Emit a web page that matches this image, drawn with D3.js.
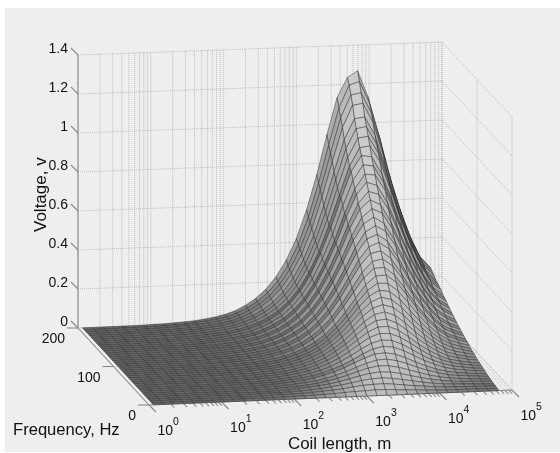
<!DOCTYPE html>
<html>
<head>
<meta charset="utf-8">
<script src="https://cdn.jsdelivr.net/npm/d3@7"></script>
<style>
  html, body { margin: 0; padding: 0; background: #fff; }
  svg { display: block; filter: blur(0.55px); }
  text { font-family: "Liberation Sans", Arial, sans-serif; fill: #111; }
</style>
</head>
<body>
<div class="main"></div>
<script>
const width = 560;
const height = 453;

const voltageTicks = [0, 0.2, 0.4, 0.6, 0.8, 1, 1.2, 1.4];
const freqTicks = [0, 100, 200];
const coilTicks = [1, 10, 100, 1000, 10000, 100000];

// mesh columns, metres
const coilLength = [1.15, 1.58, 2.19, 3.02, 4.17, 5.75, 7.94, 11, 15.1, 20.9, 28.8, 39.8, 55, 75.9, 105, 145, 200, 275, 380, 525, 724, 1000, 1380, 1905, 2630, 3631, 5012, 6918, 9550, 13183, 18197, 25119, 34674, 47863, 66069];
// mesh rows, Hz
const frequency = [0, 5, 10, 15, 20, 25, 30, 35, 40, 45, 50, 55, 60, 65, 70, 75, 80, 85, 90, 95, 100, 105, 110, 115, 120, 125, 130, 135, 140, 145, 150, 155, 160, 165, 170, 175, 180, 185, 190, 195, 200];
// volts, one row per frequency
const voltage = [
[0,0,0,0,0,0,0,0,0,0,0,0,0,0,0,0,0,0,0,0,0,0,0,0,0,0,0,0,0,0,0,0,0,0,0],
[0,0,0,0,0,0,0,0,0,.001,.001,.001,.001,.002,.003,.004,.005,.007,.009,.012,.015,.017,.019,.019,.016,.013,.011,.008,.006,.004,.004,.003,.003,.002,.002],
[0,0,0,0,0,0,0,.001,.001,.001,.001,.002,.003,.004,.005,.007,.009,.013,.017,.022,.029,.035,.038,.039,.035,.029,.023,.018,.013,.010,.008,.007,.006,.005,.004],
[0,0,0,0,0,0,.001,.001,.001,.001,.002,.003,.004,.005,.007,.009,.013,.017,.024,.031,.040,.050,.057,.059,.055,.047,.038,.029,.022,.016,.013,.011,.009,.007,.006],
[0,0,0,0,0,.001,.001,.001,.001,.002,.002,.003,.004,.006,.008,.012,.016,.022,.029,.039,.051,.064,.075,.080,.077,.068,.055,.043,.032,.024,.018,.015,.013,.011,.009],
[0,0,0,0,0,.001,.001,.001,.001,.002,.003,.004,.005,.007,.010,.013,.018,.025,.034,.046,.060,.077,.092,.101,.100,.090,.075,.059,.044,.033,.025,.020,.017,.014,.012],
[0,0,0,0,.001,.001,.001,.001,.002,.002,.003,.004,.006,.008,.011,.015,.021,.028,.038,.052,.069,.088,.107,.121,.124,.114,.097,.076,.059,.044,.032,.026,.022,.018,.015],
[0,0,0,0,.001,.001,.001,.001,.002,.002,.003,.005,.006,.009,.012,.017,.023,.032,.044,.059,.078,.101,.124,.142,.147,.138,.118,.094,.072,.054,.040,.032,.026,.022,.019],
[0,0,0,0,.001,.001,.001,.001,.002,.003,.004,.005,.007,.009,.013,.018,.025,.034,.046,.063,.083,.108,.136,.159,.170,.164,.144,.117,.090,.068,.050,.039,.032,.027,.023],
[0,0,0,0,.001,.001,.001,.001,.002,.003,.004,.005,.007,.010,.014,.019,.027,.037,.050,.068,.092,.119,.151,.178,.193,.189,.168,.138,.107,.081,.060,.046,.038,.031,.027],
[0,0,0,.001,.001,.001,.001,.002,.002,.003,.004,.006,.008,.011,.015,.021,.029,.040,.054,.074,.099,.130,.166,.198,.217,.215,.194,.161,.126,.095,.071,.053,.044,.036,.031],
[0,0,0,.001,.001,.001,.001,.002,.002,.003,.004,.006,.008,.012,.016,.022,.031,.042,.058,.079,.106,.140,.179,.216,.240,.242,.220,.184,.144,.111,.082,.061,.050,.041,.035],
[0,0,0,.001,.001,.001,.001,.002,.002,.003,.005,.006,.009,.012,.017,.023,.032,.045,.061,.083,.113,.149,.191,.234,.263,.269,.248,.210,.166,.128,.095,.070,.057,.047,.040],
[0,0,0,.001,.001,.001,.001,.002,.003,.004,.005,.007,.009,.013,.018,.025,.034,.047,.064,.088,.118,.157,.203,.250,.285,.296,.277,.237,.189,.145,.109,.080,.064,.053,.044],
[0,0,0,.001,.001,.001,.001,.002,.003,.004,.005,.007,.010,.014,.019,.026,.036,.049,.067,.092,.124,.166,.214,.267,.308,.324,.308,.267,.214,.166,.124,.092,.072,.060,.050],
[0,0,0,.001,.001,.001,.002,.002,.003,.004,.005,.007,.010,.014,.019,.027,.037,.051,.070,.095,.130,.173,.225,.282,.329,.352,.339,.297,.241,.187,.141,.104,.081,.067,.055],
[0,0,0,.001,.001,.001,.002,.002,.003,.004,.005,.007,.010,.014,.020,.028,.038,.052,.072,.098,.134,.180,.234,.296,.350,.378,.370,.329,.269,.210,.158,.117,.090,.074,.061],
[0,0,0,.001,.001,.001,.002,.002,.003,.004,.005,.008,.011,.015,.020,.028,.039,.054,.074,.101,.138,.186,.242,.309,.369,.405,.402,.362,.300,.235,.178,.132,.099,.082,.067],
[0,0,0,.001,.001,.001,.002,.002,.003,.004,.006,.008,.011,.015,.021,.029,.040,.055,.076,.104,.142,.191,.252,.322,.389,.432,.435,.396,.332,.260,.199,.148,.110,.090,.075],
[0,0,0,.001,.001,.001,.002,.002,.003,.005,.006,.009,.012,.016,.022,.031,.043,.059,.081,.111,.151,.204,.270,.344,.415,.461,.465,.424,.355,.278,.213,.159,.117,.096,.080],
[0,0,0,.001,.001,.001,.002,.002,.003,.005,.006,.009,.012,.017,.023,.032,.044,.060,.083,.114,.155,.209,.277,.355,.433,.487,.498,.460,.390,.308,.237,.177,.130,.105,.088],
[0,0,0,.001,.001,.001,.002,.003,.003,.005,.007,.009,.013,.017,.024,.033,.046,.064,.088,.121,.164,.222,.294,.377,.461,.518,.530,.489,.414,.327,.252,.188,.138,.112,.093],
[0,0,0,.001,.001,.001,.002,.003,.004,.005,.007,.009,.013,.018,.025,.034,.047,.065,.090,.122,.167,.226,.300,.387,.477,.543,.563,.528,.452,.360,.277,.208,.153,.121,.102],
[0,0,0,.001,.001,.001,.002,.003,.004,.005,.007,.010,.014,.019,.026,.036,.050,.069,.095,.129,.176,.238,.317,.409,.504,.574,.595,.558,.478,.380,.293,.219,.162,.128,.107],
[0,0,0,.001,.001,.001,.002,.003,.004,.005,.007,.010,.014,.019,.026,.036,.050,.069,.096,.130,.178,.242,.322,.417,.519,.599,.630,.599,.519,.417,.322,.242,.178,.140,.117],
[0,0,0,.001,.001,.001,.002,.003,.004,.005,.008,.010,.015,.020,.028,.038,.053,.073,.101,.137,.188,.255,.339,.440,.547,.631,.664,.631,.547,.440,.339,.255,.188,.147,.123],
[0,0,.001,.001,.001,.002,.002,.003,.004,.006,.008,.011,.015,.020,.028,.038,.053,.073,.101,.138,.189,.257,.343,.446,.561,.654,.698,.673,.591,.480,.372,.280,.207,.161,.133],
[0,0,.001,.001,.001,.002,.002,.003,.004,.006,.008,.011,.015,.021,.029,.040,.056,.077,.106,.145,.199,.270,.360,.468,.589,.687,.733,.707,.620,.504,.390,.294,.217,.169,.139],
[0,0,.001,.001,.001,.002,.002,.003,.004,.006,.008,.011,.015,.021,.029,.040,.056,.077,.106,.146,.199,.272,.364,.474,.600,.708,.767,.750,.667,.546,.426,.321,.238,.182,.150],
[0,0,.001,.001,.001,.002,.002,.003,.004,.006,.008,.012,.016,.022,.031,.042,.059,.081,.111,.153,.209,.285,.382,.496,.629,.742,.804,.786,.699,.572,.446,.337,.249,.190,.157],
[0,0,.001,.001,.001,.002,.002,.003,.004,.006,.008,.012,.016,.022,.031,.042,.059,.081,.111,.153,.209,.285,.383,.500,.638,.762,.836,.830,.747,.619,.485,.367,.273,.205,.169],
[0,0,.001,.001,.001,.002,.002,.003,.005,.006,.009,.012,.017,.023,.032,.044,.062,.085,.116,.160,.219,.298,.400,.522,.667,.796,.874,.867,.781,.646,.507,.384,.285,.214,.176],
[0,0,.001,.001,.001,.002,.002,.003,.005,.007,.009,.013,.017,.024,.033,.046,.064,.088,.121,.167,.228,.311,.418,.545,.696,.831,.912,.904,.814,.674,.529,.400,.297,.224,.184],
[0,0,.001,.001,.001,.002,.002,.003,.005,.007,.009,.013,.017,.024,.033,.046,.064,.088,.121,.166,.227,.310,.417,.551,.703,.849,.943,.950,.866,.725,.568,.435,.324,.240,.197],
[0,0,.001,.001,.001,.002,.003,.004,.005,.007,.010,.013,.018,.025,.035,.048,.067,.092,.126,.173,.237,.323,.435,.574,.732,.884,.982,.990,.902,.755,.591,.454,.338,.250,.205],
[0,0,.001,.001,.001,.002,.003,.004,.005,.007,.010,.014,.019,.026,.036,.050,.070,.096,.131,.180,.246,.336,.452,.597,.762,.920,1.021,1.030,.938,.785,.615,.472,.351,.260,.213],
[0,0,.001,.001,.002,.002,.003,.004,.005,.008,.010,.014,.020,.027,.038,.052,.072,.099,.136,.187,.256,.349,.470,.621,.792,.956,1.062,1.070,.975,.816,.639,.490,.365,.270,.221],
[0,0,.001,.001,.001,.002,.003,.004,.005,.008,.010,.014,.020,.028,.038,.053,.076,.105,.144,.197,.270,.368,.496,.656,.836,1.009,1.121,1.130,1.029,.862,.675,.518,.385,.285,.234],
[0,0,.001,.001,.002,.002,.003,.004,.006,.008,.011,.015,.021,.029,.040,.055,.079,.109,.149,.205,.281,.383,.515,.681,.869,1.049,1.165,1.174,1.070,.896,.702,.538,.401,.296,.243],
[0,0,.001,.001,.002,.002,.003,.004,.006,.008,.011,.016,.022,.030,.041,.057,.082,.113,.155,.213,.292,.397,.535,.707,.902,1.089,1.205,1.222,1.111,.930,.728,.558,.416,.308,.252],
[0,0,.001,.001,.002,.002,.003,.005,.006,.009,.012,.016,.023,.031,.043,.060,.086,.119,.164,.226,.309,.419,.565,.742,.946,1.135,1.235,1.268,1.135,.946,.742,.565,.420,.311,.254]
];

const xScale = d3.scaleLog().domain([1, 100000]).range([0, 1]);
const fScale = d3.scaleLinear().domain([0, 200]).range([0, 1]);
const zScale = d3.scaleLinear().domain([0, 1.4]).range([0, 273]);

// floor corners of the box in the picture: front/back, left/right
const floorX = [[149, 512], [78, 442]];
const floorY = [[405, 390], [328, 315]];

function project(coil, freq, volt) {
  const u = xScale(coil);
  const v = fScale(freq);
  const px = (1 - v) * ((1 - u) * floorX[0][0] + u * floorX[0][1]) + v * ((1 - u) * floorX[1][0] + u * floorX[1][1]);
  const py = (1 - v) * ((1 - u) * floorY[0][0] + u * floorY[0][1]) + v * ((1 - u) * floorY[1][0] + u * floorY[1][1]);
  return [px, py - zScale(volt)];
}

const svg = d3.select(".main").append("svg")
  .attr("width", width)
  .attr("height", height)
  .attr("viewBox", [0, 0, width, height]);

// grey figure panel
svg.append("rect")
  .attr("x", 5).attr("y", 8)
  .attr("width", width - 5).attr("height", height - 9)
  .attr("fill", "#eeeeee");

const line = (a, b) => ({ a, b });
const xMin = 1, xMax = 100000, fMin = 0, fMax = 200, zMax = 1.4;

// dotted grid on the back wall, right wall and floor
const gridLines = [];
xScale.ticks().forEach((c) => {
  gridLines.push(line(project(c, fMax, 0), project(c, fMax, zMax)));
  gridLines.push(line(project(c, fMin, 0), project(c, fMax, 0)));
});
voltageTicks.forEach((z) => {
  gridLines.push(line(project(xMin, fMax, z), project(xMax, fMax, z)));
  gridLines.push(line(project(xMax, fMax, z), project(xMax, fMin, z)));
});
freqTicks.forEach((f) => {
  gridLines.push(line(project(xMax, f, 0), project(xMax, f, zMax)));
  gridLines.push(line(project(xMin, f, 0), project(xMax, f, 0)));
});

svg.append("g").selectAll("line")
  .data(gridLines)
  .join("line")
    .attr("x1", (d) => d.a[0]).attr("y1", (d) => d.a[1])
    .attr("x2", (d) => d.b[0]).attr("y2", (d) => d.b[1])
    .attr("stroke", "#a8a8a8")
    .attr("stroke-width", 0.7)
    .attr("stroke-dasharray", "1,1");

// solid axes
const axisLines = [
  line(project(xMin, fMax, 0), project(xMin, fMax, zMax)),
  line(project(xMin, fMax, 0), project(xMin, fMin, 0)),
  line(project(xMin, fMin, 0), project(xMax, fMin, 0))
];
voltageTicks.forEach((z) => {
  const p = project(xMin, fMax, z);
  axisLines.push(line(p, [p[0] - 7, p[1] - 7]));
});
freqTicks.forEach((f) => {
  const p = project(xMin, f, 0);
  axisLines.push(line(p, [p[0] - 11, p[1]]));
});
xScale.ticks().forEach((c) => {
  const p = project(c, fMin, 0);
  const len = coilTicks.includes(c) ? 7 : 3.5;
  axisLines.push(line(p, [p[0] + len, p[1] + len]));
});

// surface faces, far corner first so nearer ones paint over
const shade = d3.scaleLinear().domain([0, 1]).range([0.4, 0.98]);
const faces = [];
for (let i = frequency.length - 2; i >= 0; i--) {
  for (let j = coilLength.length - 2; j >= 0; j--) {
    const dV = (voltage[i][j + 1] + voltage[i + 1][j + 1] - voltage[i][j] - voltage[i + 1][j]) / 2;
    const dF = (voltage[i + 1][j] + voltage[i + 1][j + 1] - voltage[i][j] - voltage[i][j + 1]) / 2;
    const gx = 2.7 * dV / (xScale(coilLength[j + 1]) - xScale(coilLength[j])) / 5;
    const gy = 1.86 * dF / (fScale(frequency[i + 1]) - fScale(frequency[i]));
    const norm = Math.hypot(gx, gy, 1);
    const lit = (0.05 * gx + 0.75 * gy + 0.05) / norm;
    const g = Math.round(255 * shade(Math.pow(Math.max(lit, 0), 1.2)));
    faces.push({
      points: [
        project(coilLength[j], frequency[i], voltage[i][j]),
        project(coilLength[j + 1], frequency[i], voltage[i][j + 1]),
        project(coilLength[j + 1], frequency[i + 1], voltage[i + 1][j + 1]),
        project(coilLength[j], frequency[i + 1], voltage[i + 1][j])
      ],
      fill: d3.rgb(g, g, g).formatHex()
    });
  }
}

svg.append("g").selectAll("line")
  .data(axisLines)
  .join("line")
    .attr("x1", (d) => d.a[0]).attr("y1", (d) => d.a[1])
    .attr("x2", (d) => d.b[0]).attr("y2", (d) => d.b[1])
    .attr("stroke", "#8a8a8a")
    .attr("stroke-width", 1.1);

svg.append("g").selectAll("polygon")
  .data(faces)
  .join("polygon")
    .attr("points", (d) => d.points.map((p) => p.join(",")).join(" "))
    .attr("fill", (d) => d.fill)
    .attr("stroke", "#262626")
    .attr("stroke-width", 0.45)
    .attr("stroke-linejoin", "round");

// tick labels
svg.append("g").selectAll("text")
  .data(voltageTicks)
  .join("text")
    .attr("x", 68)
    .attr("y", (d) => project(xMin, fMax, d)[1] - 7)
    .attr("dy", "0.35em")
    .attr("text-anchor", "end")
    .attr("font-size", 14)
    .text((d) => d);

svg.append("g").selectAll("text")
  .data(freqTicks)
  .join("text")
    .attr("x", (d) => project(xMin, d, 0)[0] - 13)
    .attr("y", (d) => project(xMin, d, 0)[1] + 10.5)
    .attr("dy", "0.35em")
    .attr("text-anchor", "end")
    .attr("font-size", 14)
    .text((d) => d);

const coilLabels = svg.append("g").selectAll("text")
  .data(coilTicks)
  .join("text")
    .attr("x", (d) => project(d, fMin, 0)[0] + 8.5)
    .attr("y", (d) => project(d, fMin, 0)[1] + 30)
    .attr("font-size", 14);
coilLabels.append("tspan").text("10");
coilLabels.append("tspan")
  .attr("dy", -10)
  .attr("font-size", 10.5)
  .text((d) => Math.round(Math.log10(d)));

// axis titles
svg.append("text")
  .attr("x", 13).attr("y", 435)
  .attr("font-size", 16.6)
  .text("Frequency, Hz");
svg.append("text")
  .attr("x", 288).attr("y", 449)
  .attr("font-size", 16.9)
  .text("Coil length, m");
svg.append("text")
  .attr("transform", "translate(46,232) rotate(-90)")
  .attr("font-size", 17)
  .text("Voltage, v");
</script>
</body>
</html>
